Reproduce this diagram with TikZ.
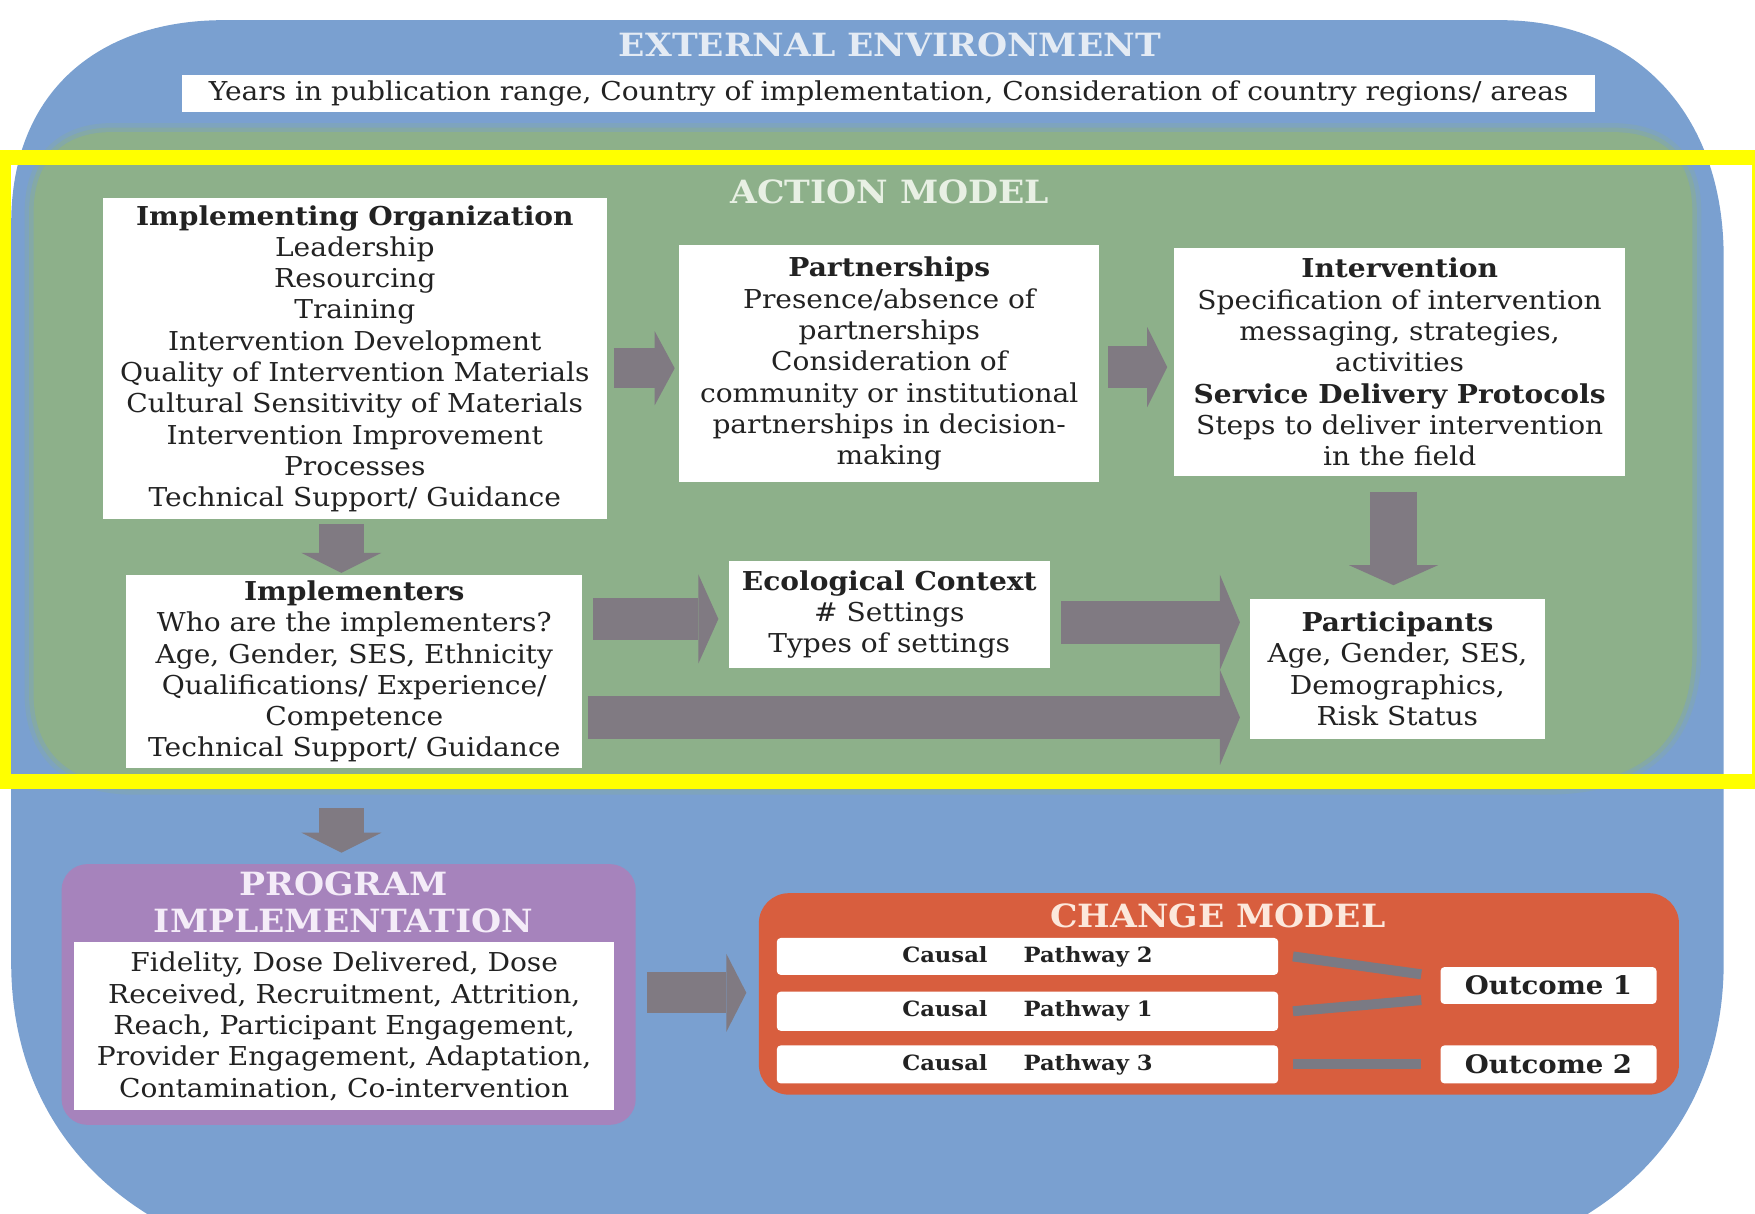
\documentclass[tikz,border=0pt]{standalone}
\usepackage{fontspec}
\setmainfont{DejaVu Serif}[FakeStretch=1.08]
\usetikzlibrary{arrows.meta,calc}

\definecolor{envblue}{RGB}{122,160,208}
\definecolor{actgreen}{RGB}{141,176,138}
\definecolor{progpurple}{RGB}{166,131,188}
\definecolor{chgorange}{RGB}{216,94,62}
\definecolor{arrowgray}{RGB}{128,122,130}
\definecolor{linkgray}{RGB}{122,122,132}
\definecolor{inkdark}{RGB}{34,34,34}
\definecolor{hilite}{RGB}{255,255,0}
\definecolor{envtitle}{RGB}{228,235,244}
\definecolor{acttitle}{RGB}{232,240,228}
\definecolor{progtitle}{RGB}{244,236,248}
\definecolor{chgtitle}{RGB}{252,232,220}

\newcommand\bodysize{\fontsize{26pt}{31.3pt}\selectfont}
\newcommand\headsize{\fontsize{32pt}{37pt}\selectfont}
\newcommand\causalfont{\fontsize{21pt}{25pt}\selectfont\bfseries}
\newcommand\pathwayfont{\fontsize{21pt}{25pt}\selectfont\bfseries}
% outline of the action-model panel
\newcommand\actionoutline{(30,190) -- (30,620) .. controls (30,670) and (60,702) .. (120,702)
  -- (1380,702) .. controls (1470,702) and (1512,660) .. (1512,580) -- (1512,190)
  .. controls (1512,145) and (1490,118) .. (1440,118) -- (100,118)
  .. controls (55,118) and (30,145) .. (30,190) -- cycle}

\begin{document}
\begin{tikzpicture}[x=1.1193pt, y=-1.1193pt,
  wbox/.style 2 args={fill=white, inner sep=0pt, minimum width=#1*1.1193pt,
    minimum height=#2*1.1193pt, align=center, text=inkdark, font=\bodysize},
  header/.style={font=\bfseries\headsize, inner sep=0pt, align=center},
  barrow/.style 2 args={draw=arrowgray, line width=#1,
    -{Triangle[length=20pt, width=#2, line width=0pt]}},
  link/.style={draw=linkgray, line width=10pt},
  outcome/.style={font=\fontsize{25.5pt}{30pt}\selectfont\bfseries}
]
\useasboundingbox (0,0) rectangle (1568,1084);
\clip (0,0) rectangle (1568,1084);
\fill[white] (0,0) rectangle (1568,1084);

% external environment
\fill[envblue] (10,200) .. controls (10,80) and (90,18) .. (200,18) -- (1340,18)
  .. controls (1460,18) and (1540,100) .. (1540,230) -- (1540,860)
  .. controls (1540,1000) and (1450,1100) .. (1300,1130) -- (250,1130)
  .. controls (100,1100) and (10,1000) .. (10,860) -- cycle;
\node[header, text=envtitle] (envtitle) at (795,40) {EXTERNAL ENVIRONMENT};
\node[wbox={1262}{33}] (years) at (794,83.5)
  {Years in publication range, Country of implementation, Consideration of country regions/ areas};

% action model panel
\draw[actgreen, line width=18pt, opacity=0.25] \actionoutline;
\draw[actgreen, line width=9pt, opacity=0.45] \actionoutline;
\fill[actgreen] \actionoutline;
\node[inner sep=0pt, minimum width=1482*1.1193pt, minimum height=584*1.1193pt] (action) at (771,410) {};
\node[header, text=acttitle] (acttitle) at (795,171) {ACTION MODEL};

\node[wbox={450}{287}] (implorg) at (317,320.5)
  {{\bfseries Implementing Organization}\\Leadership\\Resourcing\\Training\\Intervention Development\\
   Quality of Intervention Materials\\Cultural Sensitivity of Materials\\Intervention Improvement\\
   Processes\\Technical Support/ Guidance};
\node[wbox={375}{212}] (partner) at (794.5,325)
  {{\bfseries Partnerships}\\Presence/absence of\\partnerships\\Consideration of\\
   community or institutional\\partnerships in decision-\\making};
\node[wbox={403}{203}] (interv) at (1250.5,323.5)
  {{\bfseries Intervention}\\Specification of intervention\\messaging, strategies,\\activities\\
   {\bfseries Service Delivery Protocols}\\Steps to deliver intervention\\in the field};
\node[wbox={407}{172}] (implementers) at (316.5,600)
  {{\bfseries Implementers}\\Who are the implementers?\\Age, Gender, SES, Ethnicity\\
   Qualifications/ Experience/\\Competence\\Technical Support/ Guidance};
\node[wbox={287}{96}] (eco) at (794.5,549)
  {{\bfseries Ecological Context}\\\# Settings\\Types of settings};
\node[wbox={263}{125}] (particip) at (1248.5,597.5)
  {{\bfseries Participants}\\Age, Gender, SES,\\Demographics,\\Risk Status};

% flows inside the action model
\draw[barrow={40.3pt}{74pt}] ($(implorg.east |- 0,329)+(6,0)$) -- ($(partner.west |- 0,329)+(-4,0)$);
\draw[barrow={42.5pt}{80pt}] ($(partner.east |- 0,328)+(8,0)$) -- ($(interv.west |- 0,328)+(-6,0)$);
\draw[barrow={44.8pt}{80pt}] ($(implorg.south -| 305,0)+(0,4)$) -- ($(implementers.north -| 305,0)+(0,-2)$);
\draw[barrow={47pt}{89pt}] ($(interv.south -| 1245,0)+(0,14)$) -- ($(particip.north -| 1245,0)+(0,-12)$);
\draw[barrow={41.4pt}{89pt}] ($(implementers.east |- 0,553)+(10,0)$) -- ($(eco.west |- 0,553)+(-9,0)$);
\draw[barrow={42.5pt}{95pt}] ($(eco.east |- 0,556)+(10,0)$) -- ($(particip.west |- 0,556)+(-9,0)$);
\draw[barrow={42.5pt}{95pt}] ($(implementers.east |- 0,641)+(5,0)$) -- ($(particip.west |- 0,641)+(-9,0)$);

% program implementation
\node[fill=progpurple, rounded corners=26pt, inner sep=0pt,
  minimum width=513*1.1193pt, minimum height=233*1.1193pt] (program) at (311.5,888.5) {};
\node[header, text=progtitle] (progtitle) at (307,806.5) {PROGRAM\\IMPLEMENTATION};
\node[wbox={483}{150}] (progbox) at (307.5,917)
  {Fidelity, Dose Delivered, Dose\\Received, Recruitment, Attrition,\\Reach, Participant Engagement,\\
   Provider Engagement, Adaptation,\\Contamination, Co-intervention};

% change model
\node[fill=chgorange, rounded corners=30pt, inner sep=0pt,
  minimum width=822*1.1193pt, minimum height=180*1.1193pt] (change) at (1089,888) {};
\node[header, text=chgtitle] (chgtitle) at (1088,818) {CHANGE MODEL};
\node[wbox={448}{33}, rounded corners=4pt] (cp2) at (918,854.5)
  {{\causalfont Causal}\hspace{36pt}{\pathwayfont Pathway 2}};
\node[wbox={448}{35}, rounded corners=4pt] (cp1) at (918,903.5)
  {{\causalfont Causal}\hspace{36pt}{\pathwayfont Pathway 1}};
\node[wbox={448}{34}, rounded corners=4pt] (cp3) at (918,951)
  {{\causalfont Causal}\hspace{36pt}{\pathwayfont Pathway 3}};
\node[wbox={193}{33}, rounded corners=4pt, outcome] (out1) at (1383.5,880.5) {Outcome 1};
\node[wbox={193}{34}, rounded corners=4pt, outcome] (out2) at (1383.5,951) {Outcome 2};
\draw[link] ($(cp2.east)+(13,0)$) -- ($(out1.west)+(-17,-10)$);
\draw[link] ($(cp1.east)+(13,0)$) -- ($(out1.west)+(-17,13)$);
\draw[link] ($(cp3.east)+(13,0)$) -- ($(out2.west)+(-17,0)$);

% flows between the panels
\draw[barrow={44.8pt}{80pt}] ($(action.south -| 305,0)+(0,20)$) -- ($(program.north -| 305,0)+(0,-10)$);
\draw[barrow={41.4pt}{78pt}] ($(program.east |- 0,887)+(10,0)$) -- ($(change.west |- 0,887)+(-11,0)$);

% highlight frame around the action model
\draw[hilite, line width=14.5pt] (3.5,140.5) rectangle (1572,698);
\end{tikzpicture}
\end{document}
